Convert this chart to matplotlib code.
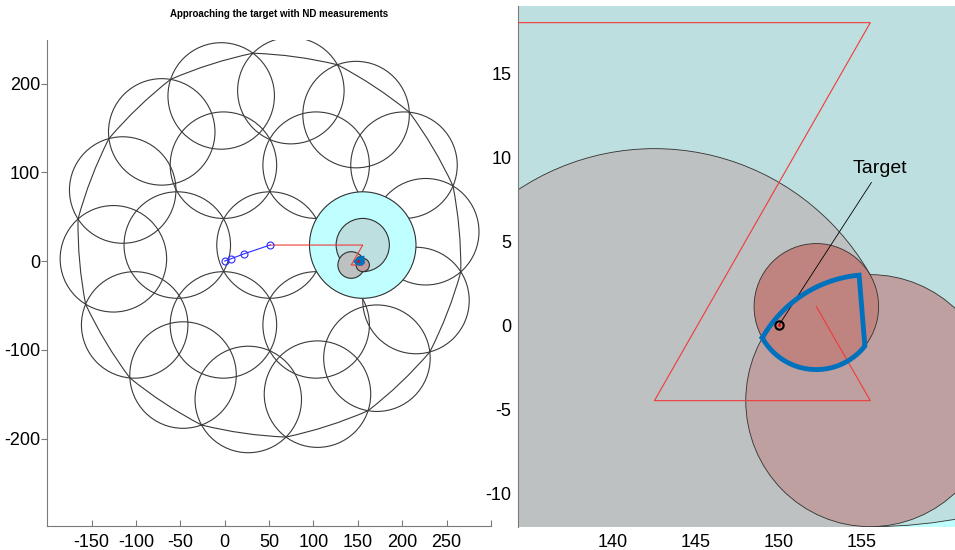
import numpy as np
import matplotlib.pyplot as plt
from matplotlib.patches import Circle, PathPatch
from matplotlib.path import Path

plt.rcParams['font.family'] = ['Liberation Sans', 'DejaVu Sans']

# sensor coverage: outer ring of circles, inner hexagon, all r = 60
outer_x = [74.5, -4, -71, -115, -125.5, -101.5, -47, 26.5, 104.5, 171.5, 215.5, 226.5, 202, 148]
outer_y = [192, 186, 145.5, 80, 2.5, -72, -128.5, -156, -150, -109.5, -44.5, 33, 108, 165]
inner_x = [51, -1.5, 103, -53.5, -1.5, 103]
inner_y = [18, 108, 108, 18, -72, -72]
cover_r = 60
hub = (51, 18)

# nested search circles around the target
search_x = [155.5, 155.5, 142.5, 155.5, 152.25]
search_y = [18, 18, -4.5, -4.5, 1.1]
search_r = [60, 30, 15, 7.5, 3.75]
search_colors = ['#bfffff', '#bedfdf', '#bec1c1', '#bea0a0', '#bf8480']

# approach track (blue) and search track (red)
approach_x = [0, 7, 21.5, 51]
approach_y = [0, 2.5, 8, 18]
track_x = [51, 155.5, 142.5, 155.5, 152.25]
track_y = [18, 18, -4.5, -4.5, 1.1]

# final region: corners + the two circles it is cut from
region_pts = [(149.04, -0.75), (154.82, 3.02), (155.26, -1.32)]
target = (150, 0)


def outer_corner(c1, c2, r):
    c1, c2 = np.array(c1), np.array(c2)
    d = c2 - c1
    dist = np.hypot(*d)
    mid = (c1 + c2) / 2
    h = np.sqrt(r**2 - (dist / 2)**2)
    perp = np.array([-d[1], d[0]]) / dist
    p1, p2 = mid + h * perp, mid - h * perp
    if np.hypot(*(p1 - hub)) > np.hypot(*(p2 - hub)):
        return p1
    return p2


def boundary_path():
    n = len(outer_x)
    pts = [outer_corner((outer_x[i], outer_y[i]),
                        (outer_x[(i + 1) % n], outer_y[(i + 1) % n]), cover_r)
           for i in range(n)]
    verts, codes = [pts[0]], [Path.MOVETO]
    for i in range(n):
        a, b = pts[i], pts[(i + 1) % n]
        m = (a + b) / 2
        out = (m - hub) / np.hypot(*(m - hub))
        verts += [m + out * 5.0, b]
        codes += [Path.CURVE3, Path.CURVE3]
    return Path(verts, codes)


def arc(cx, cy, r, p0, p1):
    a0 = np.arctan2(p0[1] - cy, p0[0] - cx)
    a1 = np.arctan2(p1[1] - cy, p1[0] - cx)
    if a1 > a0:
        a1 -= 2 * np.pi
    t = np.linspace(a0, a1, 60)
    return cx + r * np.cos(t), cy + r * np.sin(t)


def draw_scene(ax, edge_lw):
    for x, y in zip(outer_x + inner_x, outer_y + inner_y):
        ax.add_patch(Circle((x, y), cover_r, fill=False, ec='#3a3a3a', lw=edge_lw, zorder=1))
    ax.add_patch(PathPatch(boundary_path(), fill=False, ec='#3a3a3a', lw=edge_lw, zorder=1))
    for x, y, r, c in zip(search_x, search_y, search_r, search_colors):
        ax.add_patch(Circle((x, y), r, fc=c, ec='#303030', lw=edge_lw, zorder=2))
    ax.plot(track_x, track_y, color='#f03a3a', lw=0.8, zorder=3)
    ax.plot(approach_x, approach_y, color='#2a2aff', lw=0.8, marker='o', ms=5,
            mfc='none', mew=0.8, zorder=3)
    # final region outline: upper arc, straight edge, lower arc
    ux, uy = arc(search_x[3], search_y[3], search_r[3], region_pts[0], region_pts[1])
    lx, ly = arc(search_x[4], search_y[4], search_r[4], region_pts[2], region_pts[0])
    ax.plot(np.r_[ux, lx], np.r_[uy, ly], color='#0072bd', lw=3.5,
            solid_joinstyle='miter', zorder=4)
    ax.plot(*target, marker='.', ms=2, color='r', zorder=6)


fig = plt.figure(figsize=(9.55, 5.5), dpi=100)

# overview
ax1 = fig.add_axes([0.0495, 0.0436, 0.4646, 0.8836])
draw_scene(ax1, 0.8)
ax1.set_xlim(-200, 300)
ax1.set_ylim(-298.6, 249)
ax1.set_xticks([-150, -100, -50, 0, 50, 100, 150, 200, 250, 300])
ax1.set_xticklabels(['-150', '-100', '-50', '0', '50', '100', '150', '200', '250', ''])
ax1.set_yticks([-200, -100, 0, 100, 200])
ax1.set_yticklabels(['-200', '-100', '0', '100', '200'])
for s in ['top', 'right']:
    ax1.spines[s].set_visible(False)
for s in ['left', 'bottom']:
    ax1.spines[s].set_color('#7a7a7a')
    ax1.spines[s].set_linewidth(0.8)
ax1.tick_params(axis='x', direction='in', length=4, color='#7a7a7a', labelsize=13, pad=6)
ax1.tick_params(axis='y', direction='out', length=4, color='#7a7a7a', labelsize=13, pad=1)
fig.text(279 / 955, 1 - 14 / 550, 'Approaching the target with ND measurements',
         ha='center', va='center', fontsize=7, fontweight='bold')

# close-up of the target
ax2 = fig.add_axes([0.5427, 0.0424, 0.4573, 0.947])
draw_scene(ax2, 0.6)
ax2.plot(*target, marker='o', ms=6, mfc='none', mec='k', mew=1.5, zorder=5)
ax2.set_xlim(134.3, 160.6)
ax2.set_ylim(-12, 19)
ax2.set_xticks([140, 145, 150, 155])
ax2.set_xticklabels(['140', '145', '150', '155'])
ax2.set_yticks([-10, -5, 0, 5, 10, 15])
ax2.set_yticklabels(['-10', '-5', '0', '5', '10', '15'])
for s in ['top', 'right', 'bottom']:
    ax2.spines[s].set_visible(False)
ax2.spines['left'].set_color('#7a7a7a')
ax2.spines['left'].set_linewidth(0.8)
ax2.tick_params(length=0, labelsize=13, pad=5)
ax2.annotate('Target', xy=target, xytext=(156.1, 9.3), fontsize=14,
             ha='center', va='center',
             arrowprops=dict(arrowstyle='-', color='k', lw=0.6, shrinkB=0))

fig.savefig('out.png', dpi=100)
